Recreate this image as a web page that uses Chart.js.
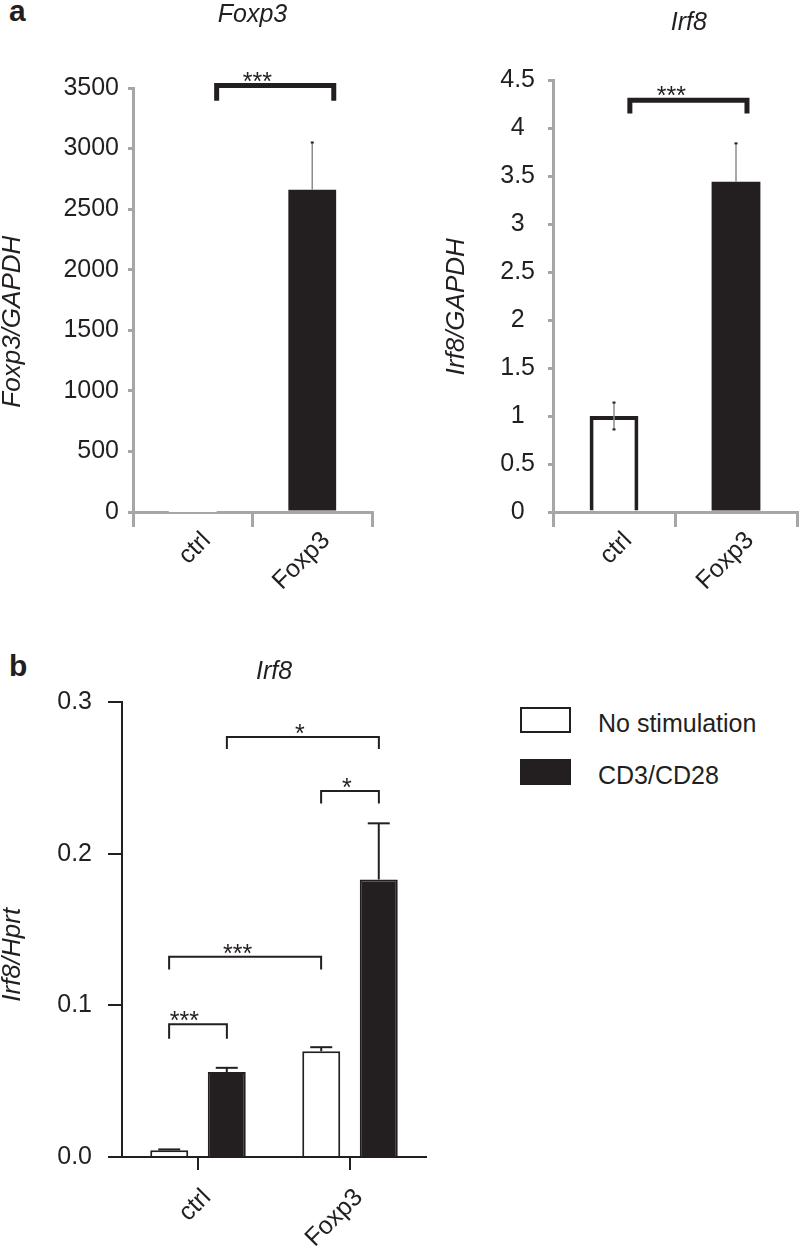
<!DOCTYPE html>
<html>
<head>
<meta charset="utf-8">
<style>
  body { margin: 0; width: 800px; height: 1248px; background: #fff; position: relative; overflow: hidden;
         font-family: 'Liberation Sans', Arial, sans-serif; color: #231f20; }
  .box { position: absolute; }
  .panel { position: absolute; font-size: 30px; font-weight: bold; line-height: 30px; }
  #legend { position: absolute; left: 520px; top: 707px; font-size: 25px; }
  .item { display: flex; align-items: center; height: 26px; margin-bottom: 26px; }
  .swatch { box-sizing: border-box; width: 51px; height: 26px; border: 2px solid #231f20; margin-right: 27px; }
  .lbl { position: relative; top: 3px; white-space: nowrap; }
</style>
</head>
<body>
<div class="panel" style="left:9px; top:-4px">a</div>
<div class="panel" style="left:9px; top:651px">b</div>
<div class="box" style="left:0; top:0; width:395px; height:620px"><canvas id="foxp3"></canvas></div>
<div class="box" style="left:444px; top:0; width:356px; height:620px"><canvas id="irf8a"></canvas></div>
<div class="box" style="left:0; top:640px; width:480px; height:608px"><canvas id="irf8b"></canvas></div>
<div id="legend"></div>

<script src="https://cdn.jsdelivr.net/npm/chart.js"></script>
<script>
  const INK = '#231f20';
  const GREY = '#a6a6a6';
  const FONT = "'Liberation Sans', Arial, sans-serif";
  Chart.defaults.font.family = FONT;
  Chart.defaults.font.size = 25;
  Chart.defaults.color = INK;

  // panel a
  const categories = ['ctrl', 'Foxp3'];
  const foxp3Values = [1, 2660];
  const foxp3ErrUp = [0, 390];
  const foxp3ErrDown = [0, 0];
  const foxp3Sig = [{ from: 0.2, to: 1.18, top: 3520, foot: 3395, at: 0.54, label: '***' }];

  const irf8Values = [1.0, 3.44];
  const irf8ErrUp = [0.14, 0.4];
  const irf8ErrDown = [0.14, 0];
  const irf8Sig = [{ from: 0.13, to: 1.09, top: 4.29, foot: 4.15, at: 0.47, label: '***' }];

  // panel b
  const groups = ['ctrl', 'Foxp3'];
  const seriesNames = ['No stimulation', 'CD3/CD28'];
  const noStim = [0.0045, 0.0697];
  const noStimErr = [0.0005, 0.0027];
  const cd3cd28 = [0.056, 0.183];
  const cd3cd28Err = [0.0028, 0.037];
  const irf8HprtSig = [
    { from: 0.19, to: 1.19, top: 0.277, foot: 0.269, at: 0.67, label: '*' },
    { from: 0.81, to: 1.19, top: 0.2414, foot: 0.233, at: 0.98, label: '*' },
    { from: -0.19, to: 0.81, top: 0.132, foot: 0.1237, at: 0.26, label: '***' },
    { from: -0.19, to: 0.19, top: 0.0875, foot: 0.078, at: -0.09, label: '***' },
  ];

  // spaces nudge a centred canvas string off its anchor
  const nudge = (text, before, after) => ' '.repeat(before) + text + ' '.repeat(after);

  // error bars drawn from dataset.errUp / errDown
  const errorBars = {
    id: 'errorBars',
    afterDatasetsDraw(chart, args, opts) {
      const { ctx } = chart;
      const y = chart.scales.y;
      ctx.save();
      chart.data.datasets.forEach((ds, i) => {
        if (!ds.errUp) return;
        chart.getDatasetMeta(i).data.forEach((bar, j) => {
          const v = ds.data[j];
          const up = ds.errUp[j] || 0;
          const down = ds.errDown ? ds.errDown[j] || 0 : 0;
          if (!up && !down) return;
          const yTop = y.getPixelForValue(v + up);
          const yBot = y.getPixelForValue(v - down);
          ctx.strokeStyle = opts.color;
          ctx.lineWidth = opts.width;
          ctx.beginPath();
          ctx.moveTo(bar.x, yBot);
          ctx.lineTo(bar.x, yTop);
          ctx.stroke();
          ctx.strokeStyle = opts.capColor || opts.color;
          ctx.lineWidth = opts.capWidth;
          (down ? [yTop, yBot] : [yTop]).forEach(yy => {
            ctx.beginPath();
            ctx.moveTo(bar.x - opts.cap / 2, yy);
            ctx.lineTo(bar.x + opts.cap / 2, yy);
            ctx.stroke();
          });
        });
      });
      ctx.restore();
    },
  };

  // significance brackets
  const brackets = {
    id: 'brackets',
    afterDraw(chart, args, opts) {
      const { ctx, scales: { x, y } } = chart;
      ctx.save();
      ctx.strokeStyle = INK;
      ctx.fillStyle = INK;
      ctx.lineWidth = opts.width;
      ctx.lineJoin = 'miter';
      ctx.font = '25px ' + FONT;
      ctx.textAlign = 'center';
      ctx.textBaseline = 'alphabetic';
      opts.items.forEach(b => {
        const x0 = x.getPixelForValue(b.from);
        const x1 = x.getPixelForValue(b.to);
        const yt = y.getPixelForValue(b.top);
        const yf = y.getPixelForValue(b.foot);
        ctx.beginPath();
        ctx.moveTo(x0, yf);
        ctx.lineTo(x0, yt);
        ctx.lineTo(x1, yt);
        ctx.lineTo(x1, yf);
        ctx.stroke();
        ctx.fillText(b.label, x.getPixelForValue(b.at), yt + opts.labelGap);
      });
      ctx.restore();
    },
  };

  const axisTitleFont = { size: 26, style: 'italic', weight: 'normal', lineHeight: 1.0 };
  const chartTitleFont = { size: 25, style: 'italic', weight: 'normal', lineHeight: 1.2 };

  new Chart(document.getElementById('foxp3'), {
    type: 'bar',
    data: {
      labels: categories,
      datasets: [{
        data: foxp3Values,
        errUp: foxp3ErrUp,
        errDown: foxp3ErrDown,
        backgroundColor: ['#ffffff', INK],
        borderWidth: 0,
        barPercentage: 0.4,
        categoryPercentage: 1,
      }],
    },
    options: {
      responsive: true,
      maintainAspectRatio: false,
      animation: false,
      layout: { padding: { right: 23 } },
      plugins: {
        legend: { display: false },
        tooltip: { enabled: false },
        title: { display: true, text: 'Foxp3', fullSize: false, font: chartTitleFont, padding: { top: 0, bottom: 58 } },
        errorBars: { color: '#8c8c8c', width: 1.5, cap: 3, capWidth: 2, capColor: INK },
        brackets: { width: 5, labelGap: 4, items: foxp3Sig },
      },
      scales: {
        x: {
          grid: { offset: true, drawOnChartArea: false, tickLength: 15, color: GREY, lineWidth: 3 },
          border: { color: GREY, width: 3 },
          ticks: { minRotation: 45, maxRotation: 45, padding: -1, labelOffset: 14 },
          afterFit(s) { s.height = 108; },
        },
        y: {
          min: 0,
          max: 3500,
          ticks: { stepSize: 500, crossAlign: 'near', padding: 9, callback: v => String(v) },
          grid: { drawOnChartArea: false, tickLength: 5, color: GREY, lineWidth: 3 },
          border: { color: GREY, width: 3 },
          title: { display: true, text: nudge('Foxp3/GAPDH', 0, 6), font: axisTitleFont, padding: 0 },
          afterFit(s) { s.width = 133; },
        },
      },
    },
    plugins: [errorBars, brackets],
  });

  new Chart(document.getElementById('irf8a'), {
    type: 'bar',
    data: {
      labels: categories,
      datasets: [{
        data: irf8Values,
        errUp: irf8ErrUp,
        errDown: irf8ErrDown,
        backgroundColor: ['#ffffff', INK],
        borderColor: INK,
        borderWidth: [4, 0],
        barPercentage: 0.4,
        categoryPercentage: 1,
      }],
    },
    options: {
      responsive: true,
      maintainAspectRatio: false,
      animation: false,
      layout: { padding: { right: 3 } },
      plugins: {
        legend: { display: false },
        tooltip: { enabled: false },
        title: { display: true, text: nudge('Irf8', 4, 0), fullSize: false, font: chartTitleFont, padding: { top: 8, bottom: 42 } },
        errorBars: { color: '#8c8c8c', width: 1.5, cap: 3, capWidth: 2, capColor: INK },
        brackets: { width: 5, labelGap: 4, items: irf8Sig },
      },
      scales: {
        x: {
          grid: { offset: true, drawOnChartArea: false, tickLength: 15, color: GREY, lineWidth: 3 },
          border: { color: GREY, width: 3 },
          ticks: { minRotation: 45, maxRotation: 45, padding: -1, labelOffset: 14 },
          afterFit(s) { s.height = 108; },
        },
        y: {
          min: 0,
          max: 4.5,
          ticks: { stepSize: 0.5, crossAlign: 'center', padding: 13, callback: v => String(v) },
          grid: { drawOnChartArea: false, tickLength: 5, color: GREY, lineWidth: 3 },
          border: { color: GREY, width: 3 },
          title: { display: true, text: nudge('Irf8/GAPDH', 0, 3), font: axisTitleFont, padding: 0 },
          afterFit(s) { s.width = 109; },
        },
      },
    },
    plugins: [errorBars, brackets],
  });

  const seriesFill = ['#ffffff', INK];

  new Chart(document.getElementById('irf8b'), {
    type: 'bar',
    data: {
      labels: groups,
      datasets: [
        { label: seriesNames[0], data: noStim, errUp: noStimErr, backgroundColor: seriesFill[0], borderColor: INK, borderWidth: 2, barPercentage: 0.66, categoryPercentage: 0.757 },
        { label: seriesNames[1], data: cd3cd28, errUp: cd3cd28Err, backgroundColor: seriesFill[1], borderColor: INK, borderWidth: 2, barPercentage: 0.66, categoryPercentage: 0.757 },
      ],
    },
    options: {
      responsive: true,
      maintainAspectRatio: false,
      animation: false,
      layout: { padding: { right: 54 } },
      plugins: {
        legend: { display: false },
        tooltip: { enabled: false },
        title: { display: true, text: 'Irf8', fullSize: false, font: chartTitleFont, padding: { top: 17, bottom: 15 } },
        errorBars: { color: INK, width: 2, cap: 22, capWidth: 2 },
        brackets: { width: 2, labelGap: 5, items: irf8HprtSig },
      },
      scales: {
        x: {
          grid: { offset: false, drawOnChartArea: false, tickLength: 13, color: INK, lineWidth: 2 },
          border: { color: INK, width: 2 },
          ticks: { minRotation: 45, maxRotation: 45, padding: 13, labelOffset: 9 },
          afterFit(s) { s.height = 91; },
        },
        y: {
          min: 0,
          max: 0.3,
          ticks: { stepSize: 0.1, padding: 16, callback: v => v.toFixed(1) },
          grid: { drawOnChartArea: false, tickLength: 14, color: INK, lineWidth: 2 },
          border: { color: INK, width: 2 },
          title: { display: true, text: nudge('Irf8/Hprt', 0, 7), font: axisTitleFont, padding: 0 },
          afterFit(s) { s.width = 122; },
        },
      },
    },
    plugins: [errorBars, brackets],
  });

  document.getElementById('legend').innerHTML = seriesNames.map((name, i) =>
    `<div class="item"><span class="swatch" style="background:${seriesFill[i]}"></span><span class="lbl">${name}</span></div>`
  ).join('');
</script>
</body>
</html>
